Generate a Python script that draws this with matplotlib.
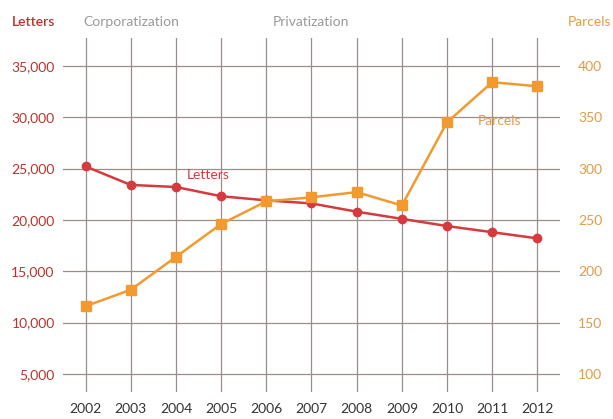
import matplotlib
matplotlib.use('Agg')
import matplotlib.pyplot as plt

years = [2002, 2003, 2004, 2005, 2006, 2007, 2008, 2009, 2010, 2011, 2012]
letters = [25200, 23400, 23200, 22300, 21900, 21600, 20800, 20100, 19400, 18800, 18200]
parcels = [166, 182, 214, 246, 268, 272, 277, 264, 345, 384, 380]
letter_ticks = [5000, 10000, 15000, 20000, 25000, 30000, 35000]
parcel_ticks = [100, 150, 200, 250, 300, 350, 400]

plt.rcParams['font.family'] = ['Lato', 'DejaVu Sans']

red = '#d63a3f'
red_txt = '#b8342c'
orange = '#f29a30'
orange_txt = '#e49a45'
grid_col = '#9b8e89'
fs = 10

fig = plt.figure(figsize=(6.13, 4.19), dpi=100)
ax = fig.add_axes([63 / 613, 1 - 392 / 419, 497 / 613, 354 / 419])
ax2 = ax.twinx()

ax.set_xlim(2001.5, 2012.5)
ax.set_ylim(3250, 37700)
# parcels axis mapped so 100 <-> 5,000 and 400 <-> 35,000
ax2.set_ylim((3250 + 5000) / 100, (37700 + 5000) / 100)

for a in (ax, ax2):
    for s in a.spines.values():
        s.set_visible(False)

# grid
for y in letter_ticks:
    ax.axhline(y, color=grid_col, lw=0.9, zorder=0)
for x in years:
    ax.axvline(x, color=grid_col, lw=0.9, zorder=0)

ax.plot(years, letters, color=red, lw=1.8, marker='o', ms=6, zorder=3)
ax2.plot(years, parcels, color=orange, lw=1.8, marker='s', ms=6.5, zorder=3)
ax2.set_zorder(ax.get_zorder() + 1)
ax2.patch.set_visible(False)

ax.set_xticks(years)
ax.set_xticklabels([str(y) for y in years], fontsize=fs, color='#333333')
ax.set_yticks(letter_ticks)
ax.set_yticklabels([f'{v:,}' for v in letter_ticks], fontsize=fs, color=red_txt)
ax2.set_yticks(parcel_ticks)
ax2.set_yticklabels([str(v) for v in parcel_ticks], fontsize=fs, color=orange_txt)
ax.tick_params(axis='both', length=0)
ax.tick_params(axis='x', pad=8)
ax.tick_params(axis='y', pad=6)
ax2.tick_params(axis='y', length=0, pad=13)

ax.text(2004.72, 24400, 'Letters', color=red, fontsize=fs, ha='center', va='center', zorder=4)
ax2.text(2011.15, 346, 'Parcels', color=orange_txt, fontsize=fs, ha='center', va='center', zorder=4)

fig.text(12 / 613, 1 - 22 / 419, 'Letters', color=red_txt, fontsize=fs, ha='left', va='center',
         fontweight='semibold')
fig.text(131 / 613, 1 - 22 / 419, 'Corporatization', color='#999999', fontsize=fs, ha='center', va='center')
fig.text(311 / 613, 1 - 22 / 419, 'Privatization', color='#999999', fontsize=fs, ha='center', va='center')
fig.text(611 / 613, 1 - 22 / 419, 'Parcels', color=orange_txt, fontsize=fs, ha='right', va='center')

fig.savefig('out.png', dpi=100)
